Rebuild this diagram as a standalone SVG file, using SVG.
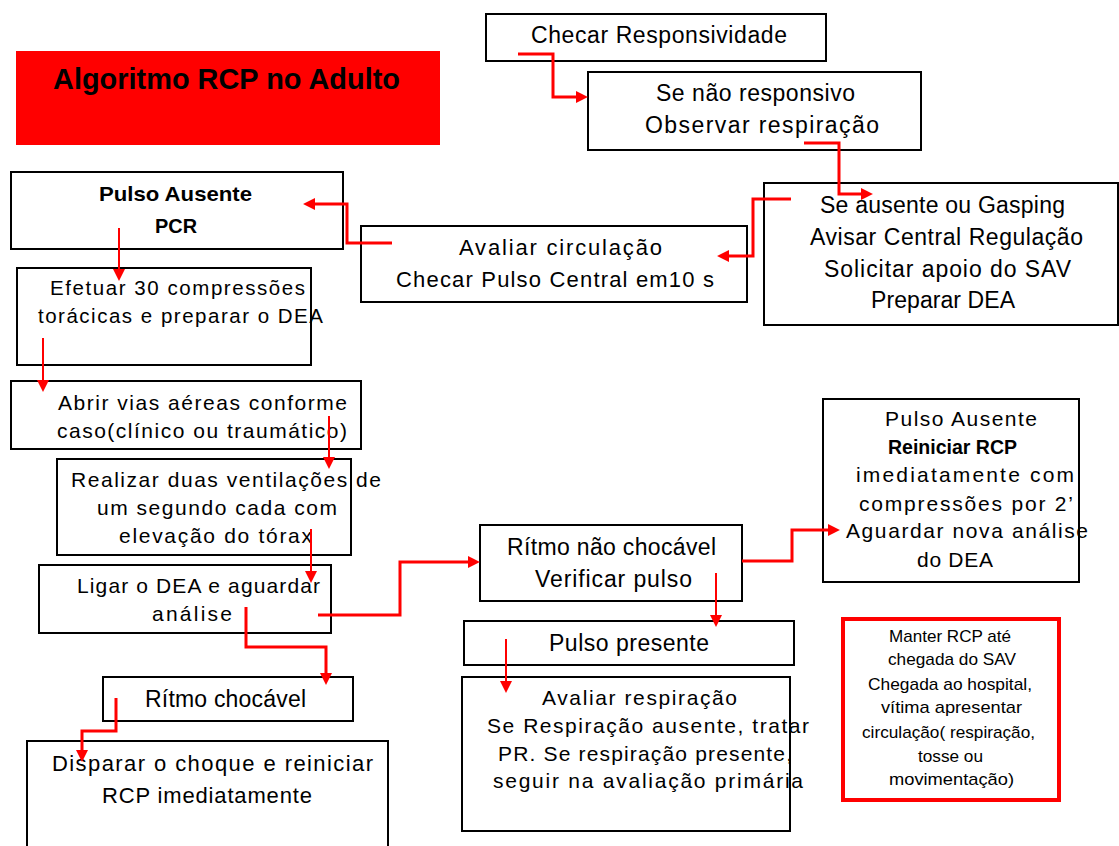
<svg xmlns="http://www.w3.org/2000/svg" width="1119" height="846" viewBox="0 0 1119 846">
<style>
  .box{fill:#fff;stroke:#000;stroke-width:2}
  .t{font-family:"Liberation Sans",Arial,sans-serif;font-size:22px;fill:#000}
  .s20{font-size:21px}
  .s19{font-size:20.5px}
  .s22{font-size:23px}
  .b{font-weight:bold}
  .sm{font-size:17px}
  .c{fill:none;stroke:#ff0000;stroke-width:3}
  .thin{stroke-width:2}
</style>
<defs>
  <marker id="ah" viewBox="0 0 10 10" refX="6.7" refY="5" markerWidth="12" markerHeight="12" markerUnits="userSpaceOnUse" orient="auto">
    <path d="M0,0 L10,5 L0,10 z" fill="#ff0000"/>
  </marker>
</defs>
<rect width="1119" height="846" fill="#fff"/>

<g id="title">
  <rect x="16" y="51" width="424" height="94" fill="#ff0000"/>
  <text class="t b" x="53" y="89" style="font-size:29px" textLength="347" lengthAdjust="spacingAndGlyphs">Algoritmo RCP no Adulto</text>
</g>

<g id="n-checar">
  <rect class="box" x="486" y="14" width="340" height="47"/>
  <text class="t s22" x="531" y="43" textLength="256">Checar Responsividade</text>
</g>

<g id="n-naoresp">
  <rect class="box" x="588" y="72" width="333" height="78"/>
  <text class="t s22" x="656" y="101" textLength="199">Se não responsivo</text>
  <text class="t s22" x="645" y="133" textLength="234">Observar respiração</text>
</g>

<g id="n-ausente">
  <rect class="box" x="764" y="183" width="354" height="142"/>
  <text class="t s22" x="820" y="213" textLength="245">Se ausente ou Gasping</text>
  <text class="t s22" x="810" y="245" textLength="273">Avisar Central Regulação</text>
  <text class="t s22" x="824" y="277" textLength="247">Solicitar apoio do SAV</text>
  <text class="t s22" x="871" y="308" textLength="144">Preparar DEA</text>
</g>

<g id="n-avaliar-circ">
  <rect class="box" x="361" y="226" width="386" height="76"/>
  <text class="t" x="459" y="255" textLength="203">Avaliar circulação</text>
  <text class="t" x="396" y="287" textLength="318">Checar Pulso Central em10 s</text>
</g>

<g id="n-pcr">
  <rect class="box" x="11" y="172" width="332" height="77"/>
  <text class="t s20 b" x="99" y="201" textLength="153" lengthAdjust="spacingAndGlyphs">Pulso Ausente</text>
  <text class="t s20 b" x="155" y="233" textLength="42" lengthAdjust="spacingAndGlyphs">PCR</text>
</g>

<g id="n-efetuar">
  <rect class="box" x="17" y="268" width="294" height="97"/>
  <text class="t s19" x="50" y="295" textLength="255">Efetuar 30 compressões</text>
  <text class="t s19" x="38" y="323" textLength="285">torácicas e preparar o DEA</text>
</g>

<g id="n-abrir">
  <rect class="box" x="11" y="381" width="350" height="68"/>
  <text class="t s20" x="58" y="410" textLength="289">Abrir vias aéreas conforme</text>
  <text class="t s20" x="57" y="438" textLength="290">caso(clínico ou traumático)</text>
</g>

<g id="n-realizar">
  <rect class="box" x="57" y="459" width="294" height="96"/>
  <text class="t s20" x="71" y="487" textLength="310">Realizar duas ventilações de</text>
  <text class="t s20" x="97" y="515" textLength="240">um segundo cada com</text>
  <text class="t s20" x="119" y="543" textLength="193">elevação do tórax</text>
</g>

<g id="n-ligar">
  <rect class="box" x="39" y="565" width="292" height="68"/>
  <text class="t s20" x="77" y="593" textLength="243">Ligar o DEA e aguardar</text>
  <text class="t s20" x="152" y="621" textLength="80">análise</text>
</g>

<g id="n-chocavel">
  <rect class="box" x="103" y="677" width="250" height="44"/>
  <text class="t s22" x="145" y="707" textLength="161">Rítmo chocável</text>
</g>

<g id="n-disparar">
  <rect class="box" x="27" y="741" width="361" height="115"/>
  <text class="t" x="52" y="771" textLength="321">Disparar o choque e reiniciar</text>
  <text class="t" x="102" y="803" textLength="210">RCP imediatamente</text>
</g>

<g id="n-naochocavel">
  <rect class="box" x="480" y="525" width="262" height="76"/>
  <text class="t s22" x="507" y="555" textLength="209">Rítmo não chocável</text>
  <text class="t s22" x="535" y="587" textLength="157">Verificar pulso</text>
</g>

<g id="n-presente">
  <rect class="box" x="464" y="621" width="330" height="44"/>
  <text class="t s22" x="549" y="651" textLength="160">Pulso presente</text>
</g>

<g id="n-avaliar-resp">
  <rect class="box" x="462" y="677" width="328" height="154"/>
  <text class="t s20" x="542" y="705" textLength="195">Avaliar respiração</text>
  <text class="t s20" x="487" y="733" textLength="322">Se Respiração ausente, tratar</text>
  <text class="t s20" x="498" y="761" textLength="294">PR. Se respiração presente,</text>
  <text class="t s20" x="493" y="788" textLength="310">seguir na avaliação primária</text>
</g>

<g id="n-reiniciar">
  <rect class="box" x="823" y="399" width="256" height="183"/>
  <text class="t s20" x="885" y="426" textLength="152">Pulso Ausente</text>
  <text class="t s20 b" x="888" y="454" textLength="129" lengthAdjust="spacingAndGlyphs">Reiniciar RCP</text>
  <text class="t s20" x="856" y="482" textLength="218">imediatamente com</text>
  <text class="t s20" x="859" y="511" textLength="214">compressões por 2’</text>
  <text class="t s20" x="846" y="538" textLength="242">Aguardar nova análise</text>
  <text class="t s20" x="917" y="567" textLength="76">do DEA</text>
</g>

<g id="n-manter">
  <rect x="843" y="619" width="216" height="181" fill="#fff" stroke="#ff0000" stroke-width="4"/>
  <text class="t sm" x="889" y="642" textLength="122" lengthAdjust="spacingAndGlyphs">Manter RCP até</text>
  <text class="t sm" x="888" y="665" textLength="128" lengthAdjust="spacingAndGlyphs">chegada do SAV</text>
  <text class="t sm" x="868" y="690" textLength="164" lengthAdjust="spacingAndGlyphs">Chegada ao hospital,</text>
  <text class="t sm" x="881" y="713" textLength="141" lengthAdjust="spacingAndGlyphs">vítima apresentar</text>
  <text class="t sm" x="862" y="738" textLength="173" lengthAdjust="spacingAndGlyphs">circulação( respiração,</text>
  <text class="t sm" x="918" y="762" textLength="65" lengthAdjust="spacingAndGlyphs">tosse ou</text>
  <text class="t sm" x="889" y="785" textLength="125" lengthAdjust="spacingAndGlyphs">movimentação)</text>
</g>

<g id="connectors">
  <path class="c" d="M518,54 H553 V97 H584" marker-end="url(#ah)"/>
  <path class="c" d="M804,143 H839 V194 H869" marker-end="url(#ah)"/>
  <path class="c" d="M791,199 H753 V256 H721" marker-end="url(#ah)"/>
  <path class="c" d="M392,243 H347 V204 H307" marker-end="url(#ah)"/>
  <path class="c thin" d="M119,228 V277" marker-end="url(#ah)"/>
  <path class="c thin" d="M43,338 V388" marker-end="url(#ah)"/>
  <path class="c thin" d="M329,416 V465" marker-end="url(#ah)"/>
  <path class="c thin" d="M311,529 V579" marker-end="url(#ah)"/>
  <path class="c" d="M318,615 H400 V562 H476" marker-end="url(#ah)"/>
  <path class="c" d="M246,607 V647 H326 V681" marker-end="url(#ah)"/>
  <path class="c" d="M116,698 V731 H82 V758" marker-end="url(#ah)"/>
  <path class="c" d="M742,561 H792 V530 H836" marker-end="url(#ah)"/>
  <path class="c thin" d="M716,573 V623" marker-end="url(#ah)"/>
  <path class="c thin" d="M506,639 V689" marker-end="url(#ah)"/>
</g>
</svg>
